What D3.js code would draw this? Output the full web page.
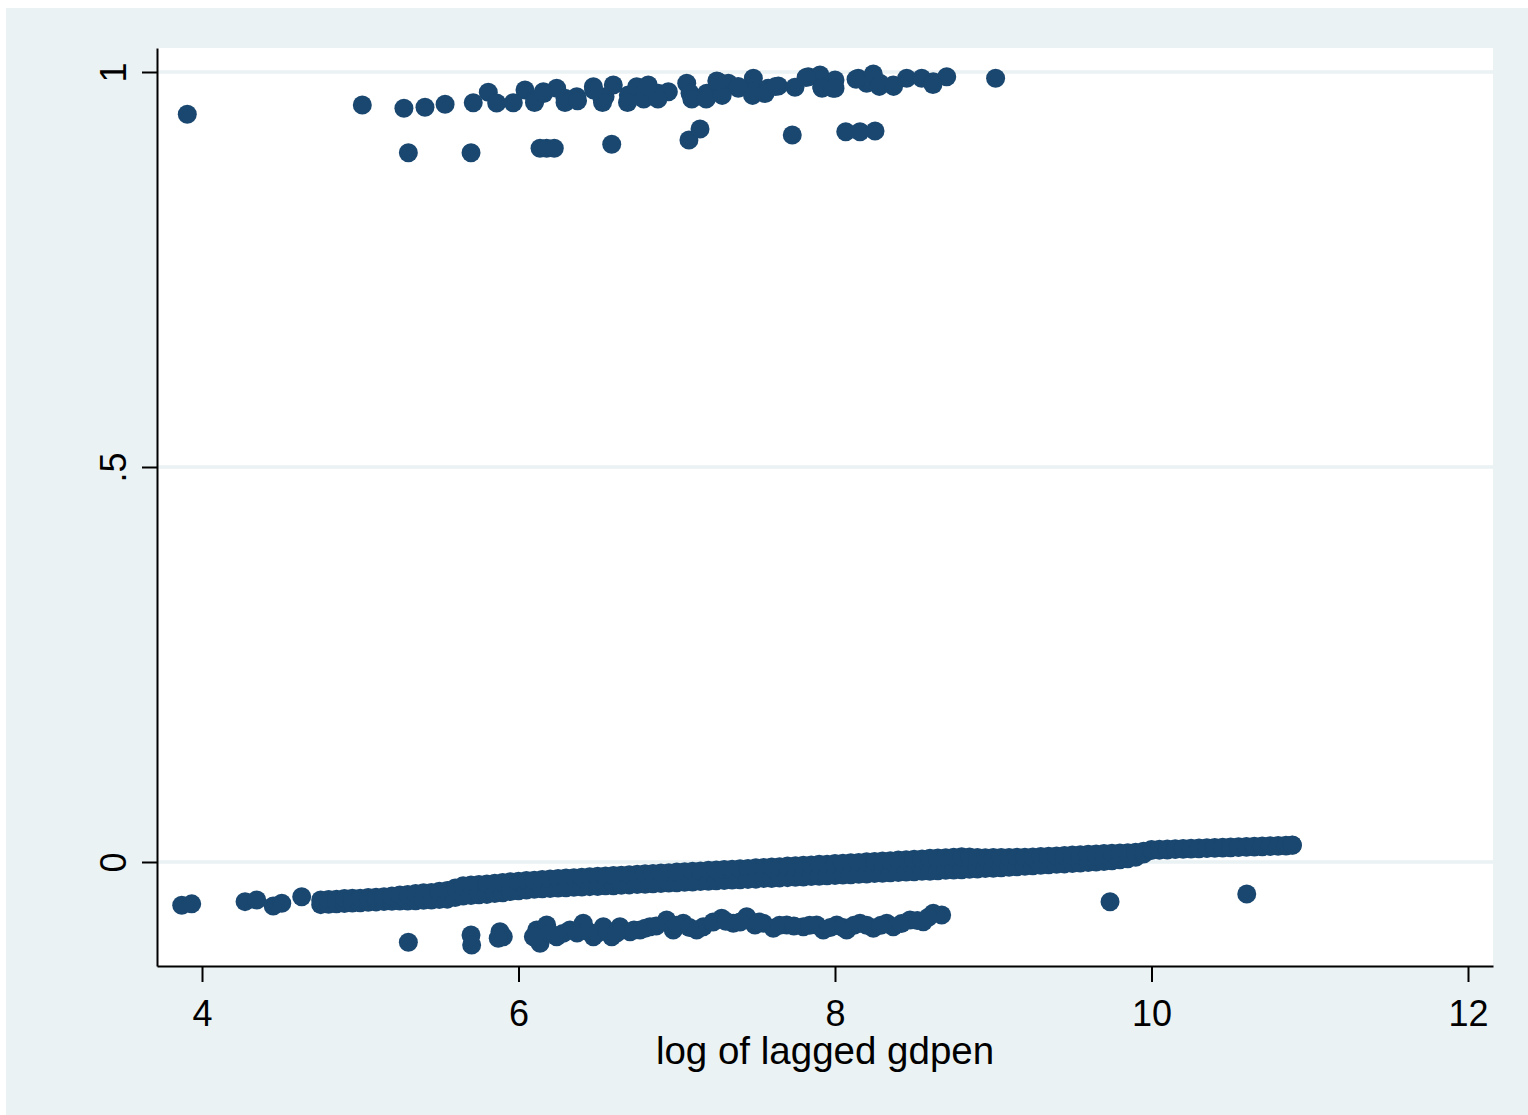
<!DOCTYPE html>
<html>
<head>
<meta charset="utf-8">
<script src="https://cdn.jsdelivr.net/npm/d3@7"></script>
<style>
  html, body { margin: 0; padding: 0; background: #ffffff; }
  svg { display: block; }
  text { font-family: "Liberation Sans", Arial, Helvetica, sans-serif; fill: #000; }
</style>
</head>
<body>
<script>
// ---- axis ticks ----
const xTicks = [4, 6, 8, 10, 12];
const xTickLabels = ["4", "6", "8", "10", "12"];
const yTicks = [0, 0.5, 1];
const yTickLabels = ["0", ".5", "1"];
const xTitle = "log of lagged gdpen";

// ---- dense strip of observations near zero (upper and lower edge of the strip) ----
const bandX = [
  4.75, 4.80, 4.85, 4.90, 4.95, 5.00, 5.05, 5.10, 5.15, 5.20, 5.25, 5.30, 5.35, 5.40,
  5.45, 5.50, 5.55, 5.60, 5.65, 5.70, 5.75, 5.80, 5.85, 5.90, 5.95, 6.00, 6.05, 6.10,
  6.15, 6.20, 6.25, 6.30, 6.35, 6.40, 6.45, 6.50, 6.55, 6.60, 6.65, 6.70, 6.75, 6.80,
  6.85, 6.90, 6.95, 7.00, 7.05, 7.10, 7.15, 7.20, 7.25, 7.30, 7.35, 7.40, 7.45, 7.50,
  7.55, 7.60, 7.65, 7.70, 7.75, 7.80, 7.85, 7.90, 7.95, 8.00, 8.05, 8.10, 8.15, 8.20,
  8.25, 8.30, 8.35, 8.40, 8.45, 8.50, 8.55, 8.60, 8.65,
  8.70, 8.75, 8.80, 8.85, 8.90, 8.95, 9.00, 9.05, 9.10, 9.15, 9.20, 9.25, 9.30, 9.35,
  9.40, 9.45, 9.50, 9.55, 9.60, 9.65, 9.70, 9.75, 9.80, 9.85, 9.90, 9.95,
  10.00, 10.05, 10.10, 10.15, 10.20, 10.25, 10.30, 10.35, 10.40, 10.45, 10.50, 10.55,
  10.60, 10.65, 10.70, 10.75, 10.80, 10.85, 10.89
];
const bandTop = [
  -0.0480, -0.0475, -0.0470, -0.0462, -0.0460, -0.0458, -0.0450, -0.0445, -0.0440, -0.0430,
  -0.0418, -0.0410, -0.0400, -0.0390, -0.0385, -0.0370, -0.0360, -0.0330, -0.0300, -0.0290,
  -0.0285, -0.0280, -0.0270, -0.0260, -0.0250, -0.0245, -0.0235, -0.0230,
  -0.0220, -0.0214, -0.0210, -0.0203, -0.0199, -0.0192, -0.0188, -0.0181, -0.0178, -0.0170,
  -0.0167, -0.0160, -0.0156, -0.0149, -0.0145, -0.0138, -0.0135, -0.0127, -0.0124, -0.0116,
  -0.0113, -0.0106, -0.0102, -0.0095, -0.0091, -0.0084, -0.0081, -0.0073, -0.0070, -0.0062,
  -0.0059, -0.0052, -0.0048, -0.0041, -0.0037, -0.0030, -0.0027, -0.0019, -0.0016, -0.0008,
  -0.0005, 0.0002, 0.0006, 0.0013, 0.0017, 0.0024, 0.0027, 0.0035, 0.0038, 0.0046, 0.0050,
  0.0054, 0.0060, 0.0065, 0.0062, 0.0056, 0.0055, 0.0056, 0.0057, 0.0058, 0.0059, 0.0060,
  0.0064, 0.0068, 0.0072, 0.0077, 0.0082, 0.0087, 0.0092, 0.0097, 0.0102, 0.0106, 0.0110,
  0.0114, 0.0117, 0.0122, 0.0135,
  0.0158, 0.0161, 0.0165, 0.0168, 0.0171, 0.0174, 0.0178, 0.0181, 0.0184, 0.0187, 0.0191,
  0.0194, 0.0197, 0.0200, 0.0203, 0.0206, 0.0209, 0.0212, 0.0215
];
const bandBottom = [
  -0.0540, -0.0535, -0.0530, -0.0525, -0.0520, -0.0515, -0.0510, -0.0505, -0.0500, -0.0498,
  -0.0495, -0.0493, -0.0490, -0.0485, -0.0480, -0.0475, -0.0470, -0.0450, -0.0430, -0.0425,
  -0.0415, -0.0410, -0.0400, -0.0390, -0.0375, -0.0365, -0.0355, -0.0345,
  -0.0340, -0.0336, -0.0330, -0.0327, -0.0321, -0.0318, -0.0312, -0.0309, -0.0302, -0.0300,
  -0.0293, -0.0290, -0.0284, -0.0281, -0.0275, -0.0272, -0.0266, -0.0263, -0.0256, -0.0254,
  -0.0247, -0.0244, -0.0238, -0.0235, -0.0229, -0.0226, -0.0220, -0.0217, -0.0210, -0.0208,
  -0.0201, -0.0198, -0.0192, -0.0189, -0.0183, -0.0180, -0.0174, -0.0171, -0.0164, -0.0162,
  -0.0155, -0.0152, -0.0146, -0.0143, -0.0137, -0.0134, -0.0128, -0.0125, -0.0118, -0.0116,
  -0.0110,
  -0.0106, -0.0102, -0.0098, -0.0093, -0.0088, -0.0083, -0.0078, -0.0072, -0.0066, -0.0060,
  -0.0054, -0.0048, -0.0042, -0.0036, -0.0030, -0.0024, -0.0018, -0.0012, -0.0006, 0.0000,
  0.0007, 0.0015, 0.0028, 0.0042, 0.0060, 0.0100,
  0.0146, 0.0150, 0.0153, 0.0157, 0.0160, 0.0163, 0.0167, 0.0170, 0.0173, 0.0177, 0.0180,
  0.0183, 0.0187, 0.0190, 0.0193, 0.0197, 0.0200, 0.0203, 0.0212
];

// ---- scattered observations near zero (left end and the row under the strip) ----
const lowX = [
  3.872, 3.935, 4.272, 4.346, 4.450, 4.504, 4.630,
  5.304, 5.700, 5.704, 5.883, 5.904, 5.872, 6.115, 6.136, 6.094, 6.178, 6.241, 6.325,
  6.409, 6.473, 6.536, 6.589, 6.641, 6.705, 6.768, 6.831, 6.936, 6.978, 7.041, 7.126,
  7.168, 7.284, 7.357, 7.442, 7.494, 7.547, 7.610, 7.695, 7.800, 7.884, 7.926, 8.011,
  8.074, 8.158, 8.242, 8.327, 8.368, 8.474, 8.558, 8.621, 8.674,
  6.200, 6.280, 6.370, 6.440, 6.500, 6.560, 6.620, 6.730, 6.800, 6.870, 7.000, 7.080,
  7.230, 7.310, 7.400, 7.520, 7.650, 7.740, 7.840, 7.970, 8.050, 8.120, 8.200, 8.290,
  8.420, 8.520, 8.590,
  9.738, 10.602
];
const lowY = [
  -0.0548, -0.0530, -0.0502, -0.0481, -0.0557, -0.0523, -0.0439,
  -0.1016, -0.0924, -0.1051, -0.0882, -0.0946, -0.0966, -0.0861, -0.1029, -0.0946, -0.0797,
  -0.0946, -0.0861, -0.0776, -0.0946, -0.0819, -0.0946, -0.0819, -0.0882, -0.0861, -0.0819,
  -0.0734, -0.0861, -0.0776, -0.0861, -0.0819, -0.0713, -0.0776, -0.0692, -0.0797, -0.0776,
  -0.0839, -0.0797, -0.0819, -0.0797, -0.0861, -0.0797, -0.0861, -0.0776, -0.0839, -0.0776,
  -0.0819, -0.0734, -0.0756, -0.0649, -0.0671,
  -0.0900, -0.0905, -0.0900, -0.0880, -0.0900, -0.0880, -0.0900, -0.0860, -0.0840, -0.0810,
  -0.0800, -0.0830, -0.0760, -0.0750, -0.0760, -0.0760, -0.0800, -0.0810, -0.0800, -0.0830,
  -0.0830, -0.0800, -0.0800, -0.0800, -0.0780, -0.0740, -0.0700,
  -0.0503, -0.0405
];

// ---- observations near one ----
const highX = [
  3.907, 5.013, 5.276, 5.409, 5.536, 5.714, 5.809, 5.862, 5.967, 6.041, 6.104, 6.157,
  6.241, 6.294, 6.368, 6.473, 6.526, 6.547, 6.599, 6.694, 6.747, 6.820, 6.883, 6.947,
  7.063, 7.084, 7.189, 7.263, 7.326, 7.389, 7.484, 7.484, 7.579, 7.642, 7.747, 7.831,
  7.905, 7.916, 8.000, 8.000, 8.147, 8.200, 8.242, 8.284, 8.368, 8.453, 8.548, 8.621,
  8.706, 9.015,
  6.101, 6.294, 6.373, 6.531, 6.689, 6.791, 6.881, 7.095, 7.186, 7.287, 7.479, 7.558,
  7.625, 7.918, 7.987, 8.280, 8.370, 8.619, 6.159, 6.475, 6.813, 7.253, 7.388, 7.817,
  8.133,
  5.304, 5.700, 6.136, 6.178, 6.226, 6.589, 7.077, 7.147, 7.730, 8.068, 8.158, 8.253
];
const highY = [
  0.9465, 0.9582, 0.9540, 0.9553, 0.9591, 0.9611, 0.9743, 0.9608, 0.9611, 0.9772, 0.9646, 0.9751,
  0.9794, 0.9667, 0.9687, 0.9814, 0.9680, 0.9687, 0.9835, 0.9709, 0.9814, 0.9835, 0.9730, 0.9751,
  0.9857, 0.9730, 0.9730, 0.9877, 0.9857, 0.9794, 0.9920, 0.9751, 0.9794, 0.9823, 0.9806, 0.9941,
  0.9962, 0.9814, 0.9899, 0.9794, 0.9920, 0.9857, 0.9975, 0.9857, 0.9835, 0.9920, 0.9920, 0.9877,
  0.9941, 0.9920,
  0.9614, 0.9614, 0.9637, 0.9614, 0.9614, 0.9659, 0.9659, 0.9659, 0.9659, 0.9704, 0.9704, 0.9727,
  0.9818, 0.9795, 0.9795, 0.9818, 0.9818, 0.9841, 0.9727, 0.9772, 0.9818, 0.9885, 0.9818, 0.9930,
  0.9908,
  0.8979, 0.8979, 0.9034, 0.9034, 0.9034, 0.9085, 0.9139, 0.9278, 0.9203, 0.9244, 0.9244, 0.9253
];

// ---- layout ----
const W = 1528, H = 1115;
const plot = { left: 157, right: 1493, top: 48, bottom: 966 };
const markerColor = "#1a476f";
const regionColor = "#eaf2f3";

const svg = d3.select("body").append("svg")
  .attr("width", W).attr("height", H);

// graph region and plot region
svg.append("rect").attr("x", 6).attr("y", 8)
  .attr("width", W - 6).attr("height", H - 8)
  .attr("fill", regionColor);
svg.append("rect")
  .attr("x", plot.left).attr("y", plot.top)
  .attr("width", plot.right - plot.left).attr("height", plot.bottom - plot.top)
  .attr("fill", "#ffffff");

const x = d3.scaleLinear()
  .domain([3.7156, 12.158])
  .range([plot.left, plot.right]);
const y = d3.scaleLinear()
  .domain([-0.13165, 1.03038])
  .range([plot.bottom, plot.top]);

// horizontal grid lines at the y ticks
svg.append("g").selectAll("line").data(yTicks).join("line")
  .attr("x1", plot.left).attr("x2", plot.right)
  .attr("y1", d => y(d)).attr("y2", d => y(d))
  .attr("stroke", regionColor).attr("stroke-width", 3.5);

// points
const points = [];
bandX.forEach((v, i) => {
  points.push([v, bandBottom[i]]);
  points.push([v, bandTop[i]]);
});
lowX.forEach((v, i) => points.push([v, lowY[i]]));
highX.forEach((v, i) => points.push([v, highY[i]]));

svg.append("g").selectAll("circle").data(points).join("circle")
  .attr("cx", d => x(d[0]))
  .attr("cy", d => y(d[1]))
  .attr("r", 9.5)
  .attr("fill", markerColor);

// x axis
const gx = svg.append("g")
  .attr("transform", `translate(0,${plot.bottom})`)
  .call(d3.axisBottom(x)
    .tickValues(xTicks)
    .tickFormat((d, i) => xTickLabels[i])
    .tickSize(16)
    .tickSizeOuter(0)
    .tickPadding(18));
gx.select(".domain").attr("stroke", "#000").attr("stroke-width", 2);
gx.selectAll(".tick line").attr("stroke", "#000").attr("stroke-width", 2);
gx.selectAll(".tick text")
  .attr("font-size", 36)
  .attr("font-family", "'Liberation Sans', Arial, sans-serif")
  .attr("fill", "#000");

// y axis with rotated labels
const gy = svg.append("g")
  .attr("transform", `translate(${plot.left},0)`)
  .call(d3.axisLeft(y)
    .tickValues(yTicks)
    .tickFormat((d, i) => yTickLabels[i])
    .tickSize(15)
    .tickSizeOuter(0));
gy.select(".domain").attr("stroke", "#000").attr("stroke-width", 2);
gy.selectAll(".tick line").attr("stroke", "#000").attr("stroke-width", 2);
gy.selectAll(".tick text")
  .attr("x", null).attr("dy", null)
  .attr("text-anchor", "middle")
  .attr("transform", "translate(-31,0) rotate(-90)")
  .attr("font-size", 36)
  .attr("font-family", "'Liberation Sans', Arial, sans-serif")
  .attr("fill", "#000");

// axis title
svg.append("text")
  .attr("x", (plot.left + plot.right) / 2)
  .attr("y", 1064)
  .attr("text-anchor", "middle")
  .attr("font-size", 38.5)
  .text(xTitle);
</script>
</body>
</html>
